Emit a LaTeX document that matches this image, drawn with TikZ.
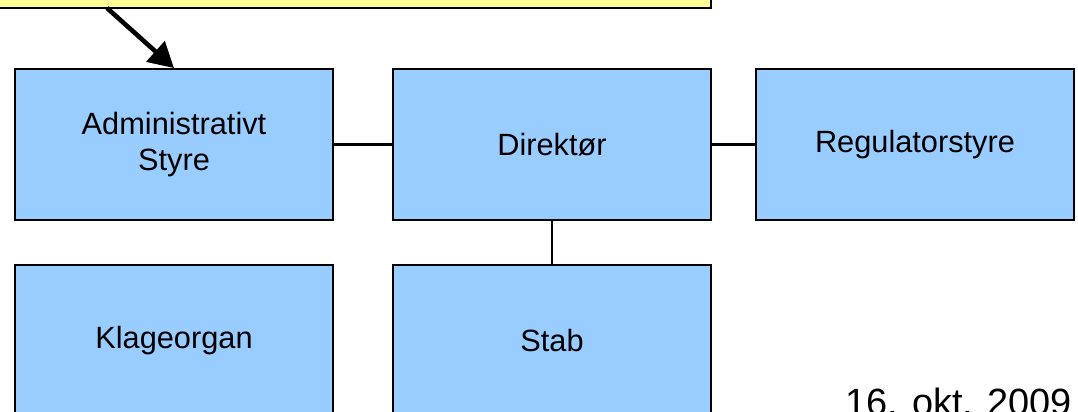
\documentclass[tikz,border=0pt]{standalone}
\usepackage{fontspec}
\setmainfont{Liberation Sans}
\usetikzlibrary{arrows.meta}
\definecolor{boxblue}{HTML}{99CCFF}
\definecolor{noteyellow}{HTML}{FFFF99}

\begin{document}
\begin{tikzpicture}[x=0.02cm,y=-0.02cm,
    unit/.style={draw,line width=1.1pt,fill=boxblue,minimum width=6.36cm,
        minimum height=3.02cm,inner sep=0pt,align=center,
        font=\fontsize{17.5}{21}\selectfont},
    link/.style={line width=1.2pt}]
    \useasboundingbox (0,0) rectangle (1078,412);
    \clip (0,0) rectangle (1078,412);
    % yellow note, mostly above the page
    \node[draw,line width=1.1pt,fill=noteyellow,minimum width=14.62cm,
        minimum height=2.16cm,inner sep=0pt] (note) at (345.5,-46) {};
    \node[unit] (adm) at (174,144.5) {Administrativt\\Styre};
    \node[unit] (dir) at (552,144.5) {Direktør};
    \node[unit] (reg) at (915,144.5) {Regulatorstyre};
    \node[unit] (klage) at (174,340.5) {Klageorgan};
    \node[unit] (stab) at (552,340.5) {Stab};
    \node[anchor=base west,inner sep=0pt,font=\fontsize{21.6}{24}\selectfont]
        (date) at (845,415) {16. okt. 2009};
    \draw[link] (adm) -- (dir);
    \draw[link] (dir) -- (reg);
    \draw[link] (dir) -- (stab);
    \coordinate (from) at (107,8);
    \draw[line width=2.6pt,-{Triangle[length=0.5cm,width=0.54cm]}] (from) -- (adm.north);
\end{tikzpicture}
\end{document}
